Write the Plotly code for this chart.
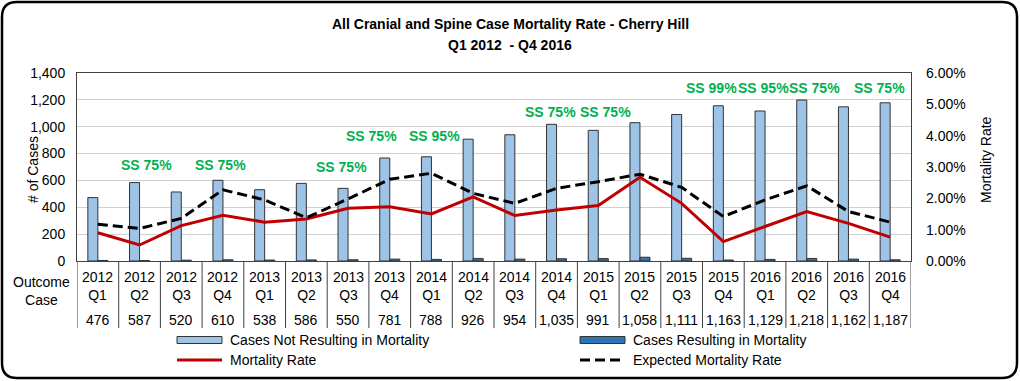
import plotly.graph_objects as go

# ---------------- data ----------------
years = ["2012"] * 4 + ["2013"] * 4 + ["2014"] * 4 + ["2015"] * 4 + ["2016"] * 4
quarters = ["Q1", "Q2", "Q3", "Q4"] * 5
categories = [f"{y} {q}" for y, q in zip(years, quarters)]

total_cases = [476, 587, 520, 610, 538, 586, 550, 781, 788, 926,
               954, 1035, 991, 1058, 1111, 1163, 1129, 1218, 1162, 1187]
cases_mortality = [4, 3, 6, 9, 7, 8, 9, 14, 12, 19,
                   14, 17, 18, 28, 20, 7, 12, 19, 14, 9]
cases_not_mortality = [472, 584, 514, 601, 531, 578, 541, 767, 776, 907,
                       940, 1018, 973, 1030, 1091, 1156, 1117, 1199, 1148, 1178]
mortality_rate = [0.0090, 0.0051, 0.0113, 0.0146, 0.0124, 0.0134, 0.0168, 0.0173, 0.0150, 0.0205,
                  0.0145, 0.0163, 0.0177, 0.0267, 0.0184, 0.0062, 0.0110, 0.0158, 0.0120, 0.0076]
expected_rate = [0.0117, 0.0104, 0.0136, 0.0227, 0.0195, 0.0138, 0.0198, 0.0261, 0.0280, 0.0216,
                 0.0184, 0.0232, 0.0253, 0.0277, 0.0235, 0.0142, 0.0195, 0.0240, 0.0158, 0.0124]

ss_categories = ["2012 Q2", "2012 Q4", "2013 Q3", "2013 Q4", "2014 Q1", "2014 Q4",
                 "2015 Q1", "2015 Q4", "2016 Q1", "2016 Q2", "2016 Q4"]
ss_texts = ["SS 75%", "SS 75%", "SS 75%", "SS 75%", "SS 95%", "SS 75%",
            "SS 75%", "SS 99%", "SS 95%", "SS 75%", "SS 75%"]

# ---------------- layout geometry ----------------
W, H = 1020, 381
L, R, T, B = 77, 109, 73, 120
PW, PH = W - L - R, H - T - B
FONT = "Arial, Liberation Sans, sans-serif"

def px_x(px):
    return (px - L) / PW

def px_y(py):
    return (H - B - py) / PH

LIGHT = "#9DC3E6"
DARK = "#2E75B6"
RED = "#C00000"
GREEN = "#00B050"

fig = go.Figure()
fig.add_trace(go.Bar(x=categories, y=cases_not_mortality, name="Cases Not Resulting in Mortality",
                     marker=dict(color=LIGHT, line=dict(color="#333333", width=1)), showlegend=False))
fig.add_trace(go.Bar(x=categories, y=cases_mortality, name="Cases Resulting in Mortality",
                     marker=dict(color=DARK, line=dict(color="#333333", width=1)), showlegend=False))
fig.add_trace(go.Scatter(x=categories, y=mortality_rate, name="Mortality Rate", yaxis="y2",
                         mode="lines", line=dict(color=RED, width=3), showlegend=False))
fig.add_trace(go.Scatter(x=categories, y=expected_rate, name="Expected Mortality Rate", yaxis="y2",
                         mode="lines", line=dict(color="black", width=3, dash="10px,5px"),
                         showlegend=False))

annotations = []
shapes = []

# title
annotations.append(dict(text="<b>All Cranial and Spine Case Mortality Rate - Cherry Hill</b>",
                        x=px_x(510), y=px_y(24), xref="paper", yref="paper", showarrow=False,
                        font=dict(family=FONT, size=14, color="black"), xanchor="center", yanchor="middle"))
annotations.append(dict(text="<b>Q1 2012  - Q4 2016</b>",
                        x=px_x(510), y=px_y(45), xref="paper", yref="paper", showarrow=False,
                        font=dict(family=FONT, size=14, color="black"), xanchor="center", yanchor="middle"))

# axis titles
annotations.append(dict(text="# of Cases", textangle=-90, x=px_x(33), y=px_y(170), xref="paper",
                        yref="paper", showarrow=False, font=dict(family=FONT, size=14, color="black"),
                        xanchor="center", yanchor="middle"))
annotations.append(dict(text="Mortality Rate", textangle=-90, x=px_x(986), y=px_y(160), xref="paper",
                        yref="paper", showarrow=False, font=dict(family=FONT, size=14, color="black"),
                        xanchor="center", yanchor="middle"))

# SS labels
ss_shift = [7, -2, -7, -18, 3, -6, 7, -12, -2, 8, -11]
ss_y = [715, 715, 700, 931, 931, 1110, 1110, 1288, 1288, 1288, 1288]
for c, t, dx, yy in zip(ss_categories, ss_texts, ss_shift, ss_y):
    annotations.append(dict(text=f"<b>{t}</b>", x=c, y=yy, xref="x", yref="y", xshift=dx,
                            showarrow=False, font=dict(family=FONT, size=14, color=GREEN),
                            xanchor="center", yanchor="middle"))

# data table below axis
annotations.append(dict(text="Outcome<br>Case", x=px_x(41), y=px_y(291), xref="paper", yref="paper",
                        showarrow=False, font=dict(family=FONT, size=14, color="black"),
                        xanchor="center", yanchor="middle"))
for c, yv, q, n in zip(categories, years, quarters, total_cases):
    annotations.append(dict(text=f"{yv}<br>{q}", x=c, y=px_y(286), xref="x", yref="paper",
                            showarrow=False, font=dict(family=FONT, size=14, color="black"),
                            xanchor="center", yanchor="middle"))
    annotations.append(dict(text=f"{n:,}", x=c, y=px_y(320), xref="x", yref="paper",
                            showarrow=False, font=dict(family=FONT, size=14, color="black"),
                            xanchor="center", yanchor="middle"))
for i in range(len(categories) + 1):
    shapes.append(dict(type="line", xref="x", yref="paper", x0=i - 0.5, x1=i - 0.5,
                       y0=0, y1=px_y(328), line=dict(color="#404040", width=1)))

# legend (drawn manually)
leg_font = dict(family=FONT, size=14, color="black")
legend_items = [
    ("Cases Not Resulting in Mortality", 177, 340, "bar", LIGHT),
    ("Cases Resulting in Mortality", 580, 340, "bar", DARK),
    ("Mortality Rate", 177, 360, "line", RED),
    ("Expected Mortality Rate", 580, 360, "dash", "black"),
]
for text, sx, sy, kind, col in legend_items:
    if kind == "bar":
        shapes.append(dict(type="rect", xref="paper", yref="paper", x0=px_x(sx), x1=px_x(sx + 45),
                           y0=px_y(sy - 3.5), y1=px_y(sy + 3.5), fillcolor=col,
                           line=dict(color="#333333", width=1)))
    else:
        shapes.append(dict(type="line", xref="paper", yref="paper", x0=px_x(sx), x1=px_x(sx + 45),
                           y0=px_y(sy), y1=px_y(sy),
                           line=dict(color=col, width=3, dash="solid" if kind == "line" else "10px,5px")))
    annotations.append(dict(text=text, x=px_x(sx + 51), y=px_y(sy), xref="paper", yref="paper",
                            showarrow=False, font=leg_font, xanchor="left", yanchor="middle"))

# rounded outer border
x0b, y0b, x1b, y1b, rr = 2, 2, 1017, 378, 15
def P(px, py):
    return f"{px_x(px)},{px_y(py)}"
path = (f"M {P(x0b + rr, y0b)} L {P(x1b - rr, y0b)} Q {P(x1b, y0b)} {P(x1b, y0b + rr)} "
        f"L {P(x1b, y1b - rr)} Q {P(x1b, y1b)} {P(x1b - rr, y1b)} "
        f"L {P(x0b + rr, y1b)} Q {P(x0b, y1b)} {P(x0b, y1b - rr)} "
        f"L {P(x0b, y0b + rr)} Q {P(x0b, y0b)} {P(x0b + rr, y0b)} Z")
shapes.append(dict(type="path", xref="paper", yref="paper", path=path,
                   line=dict(color="black", width=2.5)))

fig.update_layout(
    width=W, height=H,
    margin=dict(l=L, r=R, t=T, b=B, pad=0),
    paper_bgcolor="white", plot_bgcolor="white",
    barmode="group", bargap=0.52, bargroupgap=0,
    showlegend=False,
    font=dict(family=FONT, size=14, color="black"),
    xaxis=dict(type="category", range=[-0.5, 19.5], showticklabels=False, ticks="",
               showgrid=False, showline=True, linecolor="#404040", linewidth=1, mirror=True,
               zeroline=False),
    yaxis=dict(range=[0, 1400], dtick=200, tickformat=",d", showgrid=True, gridcolor="#D0D0D0",
               gridwidth=1, showline=True, linecolor="#404040", linewidth=1, mirror=True,
               ticks="", ticklabelstandoff=8, tickfont=dict(family=FONT, size=14, color="black"),
               zeroline=False),
    yaxis2=dict(range=[0, 0.06], dtick=0.01, tickformat=".2%", overlaying="y", side="right",
                showgrid=False, showline=False, ticks="", ticklabelstandoff=14,
                tickfont=dict(family=FONT, size=14, color="black"), zeroline=False),
    annotations=annotations,
    shapes=shapes,
)

fig.write_html("out.html", config={"displayModeBar": False},
               post_script="document.body.style.margin='0';document.body.style.overflow='hidden';")
